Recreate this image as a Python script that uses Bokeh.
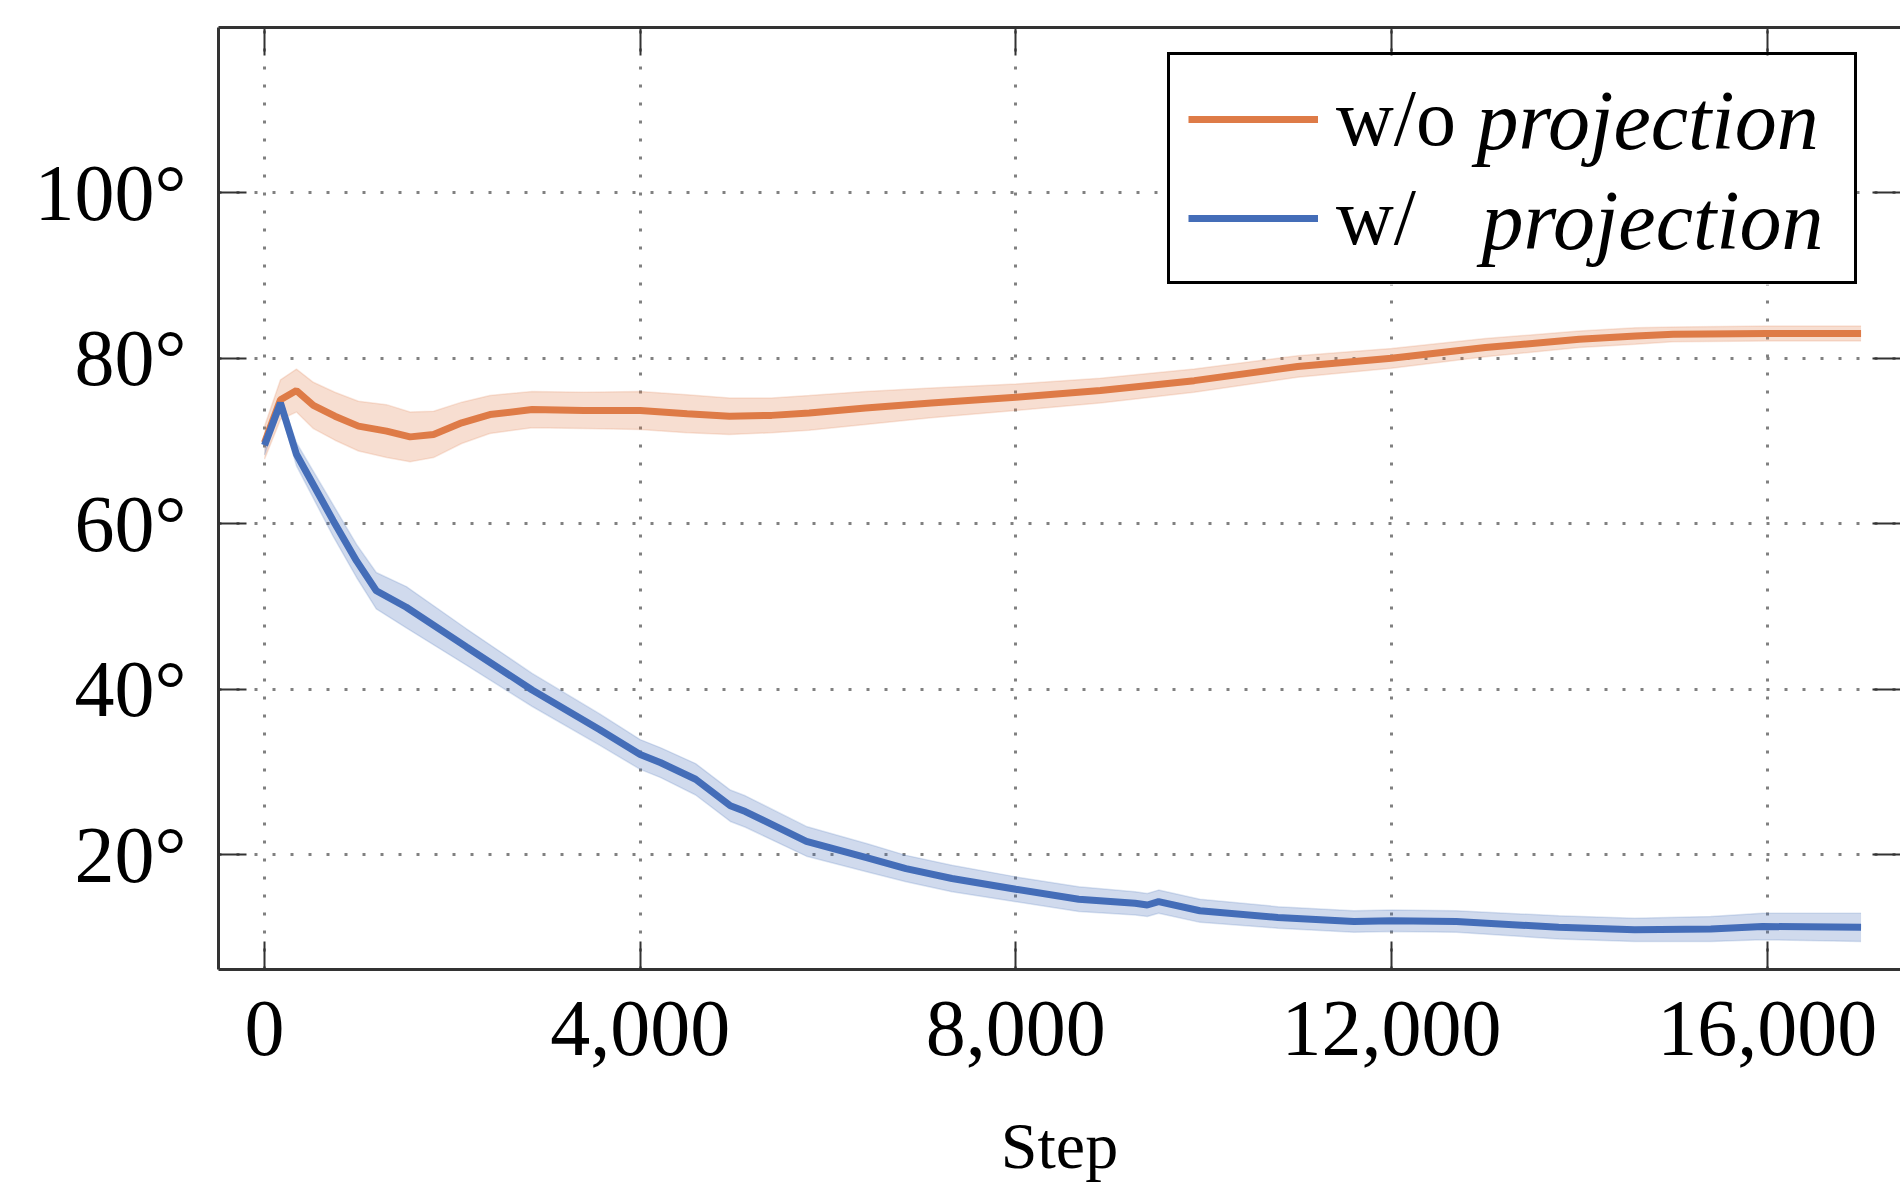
from bokeh.plotting import figure
from bokeh.models import (Range1d, FixedTicker, NumeralTickFormatter, LinearAxis, BoxAnnotation,
                          Legend, LegendItem, Label, CustomJSTickFormatter, ColumnDataSource)
from bokeh.embed import file_html
from bokeh.resources import INLINE

# ---------------- data ----------------
orange_steps = [0, 170, 340, 520, 750, 1000, 1300, 1550, 1800, 2100, 2400, 2850, 3400,
                4000, 4500, 4950, 5400, 5800, 6400, 7100, 8000, 8900, 9900, 11000,
                12000, 13000, 14000, 14600, 15000, 16000, 17000]
orange_mean = [69.8, 75.0, 76.1, 74.3, 73.0, 71.8, 71.2, 70.5, 70.8, 72.2, 73.2, 73.8, 73.7,
               73.7, 73.3, 73.0, 73.1, 73.4, 74.0, 74.6, 75.3, 76.1, 77.3, 79.0,
               80.0, 81.3, 82.3, 82.7, 82.9, 83.0, 83.0]
orange_std = [2.0, 2.4, 2.6, 2.8, 2.9, 3.0, 3.2, 3.0, 2.8, 2.5, 2.3, 2.2, 2.2,
              2.3, 2.3, 2.2, 2.1, 2.1, 2.0, 1.8, 1.6, 1.5, 1.4, 1.3,
              1.2, 1.1, 1.0, 1.0, 0.9, 0.9, 0.9]

blue_steps = [0, 170, 340, 730, 980, 1190, 1510, 2150, 2850, 3570, 4000, 4220, 4590,
              4960, 5120, 5770, 6420, 6830, 7320, 8000, 8670, 9270, 9400, 9520, 9960,
              10790, 11600, 12000, 12690, 13780, 14590, 15400, 15950, 17000]
blue_mean = [69.5, 74.6, 68.4, 60.4, 55.5, 51.9, 49.9, 45.1, 39.9, 35.1, 32.1, 31.1, 29.1,
             25.9, 25.2, 21.6, 19.6, 18.3, 17.1, 15.8, 14.6, 14.1, 13.9, 14.3, 13.2,
             12.4, 11.9, 12.0, 11.9, 11.2, 10.9, 11.0, 11.3, 11.2]
blue_std = [1.2, 0.8, 1.4, 1.9, 2.0, 2.2, 2.5, 2.2, 2.0, 1.9, 1.8, 1.8, 1.9,
            1.9, 1.9, 1.8, 1.7, 1.6, 1.6, 1.5, 1.5, 1.4, 1.4, 1.4, 1.4,
            1.3, 1.3, 1.3, 1.3, 1.4, 1.4, 1.5, 1.6, 1.7]

x_ticks = [0, 4000, 8000, 12000, 16000]
y_ticks = [20, 40, 60, 80, 100]
series_labels = ["w/o", "w/"]
series_suffix = "projection"
x_label = "Step"

ORANGE = "#DE7B47"
BLUE = "#446DB8"
FONT = "Liberation Serif"

# ---------------- figure ----------------
p = figure(width=1900, height=1185, output_backend="svg", toolbar_location=None,
           x_range=Range1d(-490, 17420), y_range=Range1d(6.1, 120),
           min_border_left=218, min_border_right=0, min_border_top=27,
           min_border_bottom=216)
p.outline_line_color = None
p.background_fill_color = "white"

src_o = ColumnDataSource(dict(x=orange_steps, y=orange_mean,
                              lo=[m - s for m, s in zip(orange_mean, orange_std)],
                              hi=[m + s for m, s in zip(orange_mean, orange_std)]))
src_b = ColumnDataSource(dict(x=blue_steps, y=blue_mean,
                              lo=[m - s for m, s in zip(blue_mean, blue_std)],
                              hi=[m + s for m, s in zip(blue_mean, blue_std)]))

for src, col in ((src_o, ORANGE), (src_b, BLUE)):
    p.varea(x="x", y1="lo", y2="hi", source=src, fill_color=col, fill_alpha=0.25)
    p.line("x", "lo", source=src, line_color=col, line_width=1.5, line_alpha=0.18)
    p.line("x", "hi", source=src, line_color=col, line_width=1.5, line_alpha=0.18)
r_o = p.line("x", "y", source=src_o, line_color=ORANGE, line_width=7)
r_b = p.line("x", "y", source=src_b, line_color=BLUE, line_width=7)

# ---------------- axes ----------------
AX_COLOR = "#333333"

def style_axis(ax):
    ax.axis_line_color = AX_COLOR
    ax.axis_line_width = 3
    ax.major_tick_in = 28
    ax.major_tick_out = 0
    ax.minor_tick_in = 0
    ax.minor_tick_out = 0
    ax.major_tick_line_color = AX_COLOR
    ax.major_tick_line_width = 2

xax = p.xaxis[0]
xax.ticker = FixedTicker(ticks=x_ticks)
xax.formatter = NumeralTickFormatter(format="0,0")
style_axis(xax)
xax.major_label_text_font = FONT
xax.major_label_text_font_size = "80px"
xax.major_label_text_color = "black"
xax.major_label_standoff = 32
xax.axis_label = x_label
xax.axis_label_text_font = FONT
xax.axis_label_text_font_size = "66px"
xax.axis_label_text_font_style = "normal"
xax.axis_label_text_color = "black"
xax.axis_label_standoff = 51

yax = p.yaxis[0]
yax.ticker = FixedTicker(ticks=y_ticks)
yax.major_label_overrides = {v: f"{v}°" for v in y_ticks}
style_axis(yax)
yax.major_label_text_font = FONT
yax.major_label_text_font_size = "80px"
yax.major_label_text_color = "black"
yax.major_label_standoff = 32

empty = CustomJSTickFormatter(code="return ''")
top_ax = LinearAxis(ticker=FixedTicker(ticks=x_ticks), formatter=empty,
                    major_label_text_font_size="0px", major_label_standoff=0)
style_axis(top_ax)
p.add_layout(top_ax, "above")
right_ax = LinearAxis(ticker=FixedTicker(ticks=y_ticks), formatter=empty,
                      major_label_text_font_size="0px", major_label_standoff=0)
style_axis(right_ax)
right_ax.axis_line_color = None
p.add_layout(right_ax, "right")

for g in (p.xgrid[0], p.ygrid[0]):
    g.grid_line_color = "#808080"
    g.grid_line_width = 3
    g.grid_line_dash = "3 15"

# ---------------- legend ----------------
# white patch behind the (transparent) legend so the grid does not show through it
p.add_layout(BoxAnnotation(left=9615, right=16930, bottom=88.9, top=116.5,
                           fill_color="white", fill_alpha=1.0, line_color=None,
                           level="underlay"))

legend = Legend(items=[LegendItem(label=series_labels[0], renderers=[r_o]),
                       LegendItem(label=series_labels[1], renderers=[r_b])],
                location=(949, 685), margin=0,
                label_text_font=FONT, label_text_font_size="80px",
                label_text_color="black",
                glyph_width=130, glyph_height=80, label_height=80,
                label_width=500, label_standoff=18, padding=18, spacing=8,
                border_line_color="black", border_line_width=3, border_line_alpha=1.0,
                background_fill_alpha=0.0)
p.add_layout(legend)

for lx, ly in ((12905, 108.8), (12958, 96.7)):
    p.add_layout(Label(x=lx, y=ly, text=series_suffix, text_font=FONT,
                       text_font_size="84px", text_font_style="italic",
                       text_baseline="middle", text_color="black"))

open("out.html", "w").write(file_html(p, INLINE))
